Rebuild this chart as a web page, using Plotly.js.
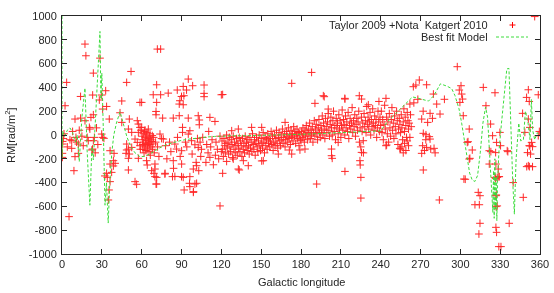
<!DOCTYPE html>
<html>
<head>
<meta charset="utf-8">
<script src="https://cdn.plot.ly/plotly-3.0.1.min.js"></script>
<style>
  html, body { margin: 0; padding: 0; background: #fff; }
  #chart { width: 554px; height: 293px; }
</style>
</head>
<body>
<div id="chart"></div>
<script>
// Rotation measures [lon (deg), RM (rad/m^2)] grouped by longitude sector
const rmSector000 = [
  [0.5,-76],[0.5,-54],[0.3,-154],[0.3,-188],[1,-30],[1.5,10],[2.3,246],[3.5,442],[4,-100],[5.3,-686],
  [6,-40],[7.3,-48],[7.3,-112],[8,30],[9,-300],[9.8,134],[9.8,-182],[10.5,-20],[11,-60],[12.3,-76],
  [12.3,-154],[13,40],[14,142],[14,324],[15,-10],[16,-90],[17.3,764],[17.3,120],[18,666],[19,-20],
  [19.8,-48],[20.6,64],[21,50],[21.8,148],[22.5,-126],[23,-118],[23.1,336],[23.6,520],[23.6,170],[23.6,-48],
  [24.4,-20],[25,-150],[26,60],[27,-80],[28.1,294],[28.6,646],[29.9,336],[29.9,8],[30.6,218],[30.6,-20],
  [31.6,-28],[32.3,-344],[32.9,372],[33.6,240],[33.6,-322],[34.1,-356],[34.9,-546],[35.4,-462],[35.6,134],[36.2,-132],
  [36.2,-244],[36.2,-392],[37.4,-314],[38.7,-216],[38.7,-260],[39.2,-154],[40,-238],[43.7,187],[45,286],[45,106],
  [48.2,-154],[48.7,442],[48.7,-126],[48.7,-76],[50,50],[50,-118],[50,-196],[50,-294],[50.7,134],[50.7,-160],
  [52,534],[52.5,22],[52.5,-104],[55,-34],[55,-392],[56.2,-414],[56.7,120],[56.7,-62],[57.5,92],[57.5,22],
  [57.5,-196],[58.7,274],[58.7,64],[58.7,-90],[59,-120]
];
const rmSector060 = [
  [59.5,40],[60,64],[60,274],[60.2,-10],[60.5,-40],[60.8,-80],[61,-120],[61.2,10],[61.5,-60],[61.8,-150],
  [62,30],[62.3,-100],[62.5,42],[62.8,-20],[63,-70],[63.2,-130],[63.5,0],[63.7,-216],[63.8,-45],[64,20],
  [64.2,-252],[64.3,-90],[64.5,-110],[64.8,-30],[65,50],[65.2,-60],[65.5,-140],[65.8,-15],[66,-80],[66.3,10],
  [66.5,-170],[66.8,-40],[67,-100],[67.5,-300],[67.5,-55],[68,-5],[68.2,-120],[68.5,-75],[68.7,338],[69,-20],
  [69.2,-322],[69.5,-150],[70,-350],[70,-244],[70,-286],[70.5,-60],[70.8,-412],[70.8,198],[70.8,170],[71.3,422],
  [71.3,274],[71.3,-356],[71.3,-412],[71.8,722],[72,-100],[73,-180],[73.8,8],[74.3,722],[74.3,338],[75,-30],
  [75.8,142],[76.3,-34],[77.5,-328],[77.6,-322],[78,-90],[79,-200],[80,352],[81,-60],[82,-140],[83.2,-350],
  [83.8,142],[83.8,-216],[84,-280],[85,-76],[85,-348],[86.3,-118],[86.8,378],[87,-20],[88.3,162],[88.3,260],
  [88.8,288],[89,-180],[90,324],[90,-350],[90.1,-132],[90.1,-244],[90.8,64],[90.8,22],[91.3,408],[91.3,254],
  [91.3,-356],[91.8,330],[92,-462],[93,-60],[93.8,378],[94,-100],[95.1,470],[95.1,142],[95.1,8],[96,-406],
  [96.3,36],[96.3,-350],[96.3,-434],[97.6,-48],[98,-160],[98.4,414],[98.9,-286],[98.9,-482],[99,-476],[100.1,-82],
  [100.1,-412],[101,-230],[101.4,-258],[101.4,-406],[102,-30],[102.6,162],[102.6,-104],[103,-300],[103.4,126],[103.4,86],
  [104,-60],[104.5,-180],[105,-120],[106,-20],[107,420],[107,350],[107,322],[108.4,-230],[109,-80],[110,-150],
  [110.5,30],[111.4,148],[111.4,-188],[112,-100],[113,-40],[114,-250],[115.2,114],[115.5,-170],[116,-60],[117,-120],
  [118,-200],[119,-596],[119,-10],[120,338],[120,-140]
];
const rmSector120 = [
  [121,340],[121,-322],[133.5,-294],[140.3,-258],[150.4,-218],[124,-222],[129,-202],[136.6,-216],[151.6,-216],[132.8,-286],
  [162.9,-160],[173,-160],[173,434],[168,106],[150.4,64],[142.8,64],[132.8,50],[127.8,36],[171.2,-126],[179.2,-126],
  [120.5,-50],[121,-120],[121.5,-180],[122,-30],[122.5,-90],[123,-150],[123.5,-70],[124,0],[124.5,-110],[125,-60],
  [125.5,-160],[126,-20],[126.5,-100],[127,-140],[127.5,-40],[128,-80],[128.5,-190],[129,-10],[129.5,-120],[130,-60],
  [130.5,-150],[131,-90],[131.5,-30],[132,-170],[132.5,-70],[133,-110],[133.5,-20],[134,-140],[134.5,-50],[135,-90],
  [135.5,-180],[136,-30],[136.5,-120],[137,-70],[137.5,-150],[138,-10],[138.5,-100],[139,-60],[139.5,-130],[140,-40],
  [140.5,-90],[141,-160],[141.5,-20],[142,-110],[142.5,-60],[143,-140],[143.5,10],[144,-80],[144.5,-120],[145,-40],
  [145.5,-170],[146,-70],[146.5,-20],[147,-100],[147.5,-140],[148,-50],[148.5,0],[149,-90],[149.5,-130],[150,-30],
  [150.5,-70],[151,-110],[151.5,20],[152,-60],[152.5,-150],[153,-20],[153.5,-90],[154,-40],[154.5,-120],[155,10],
  [155.5,-70],[156,-30],[156.5,-100],[157,-50],[157.5,30],[158,-80],[158.5,-10],[159,-130],[159.5,-60],[160,0],
  [160.5,-90],[161,-30],[161.5,40],[162,-70],[162.5,-110],[163,-20],[163.5,20],[164,-50],[164.5,-90],[165,0],
  [165.5,-40],[166,50],[166.5,-70],[167,-20],[167.5,10],[168,-100],[168.5,-40],[169,30],[169.5,-10],[170,-60],
  [170.5,60],[171,-30],[171.5,0],[172,-80],[172.5,40],[173,-20],[173.5,10],[174,-50],[174.5,70],[175,-10],
  [175.5,30],[176,-70],[176.5,0],[177,50],[177.5,-30],[178,20],[178.5,-90],[179,10],[179.5,-40]
];
const rmSector180 = [
  [188,526],[196.8,330],[197.5,322],[213,308],[213.1,302],[223.9,330],[225.6,302],[230.7,254],[238.7,282],[190.5,266],
  [200.5,218],[183,-118],[191.8,-412],[213.1,-306],[203,-118],[203,-174],[203.5,-196],[225.1,-356],[225.1,-530],[224.4,-216],
  [224.6,-252],[225.6,-146],[226.9,-48],[208,-62],[180,-48],
  [180.5,30],[181,-20],[181.5,60],[182,0],[182.5,-60],[183,40],[183.5,-10],[184,80],[184.5,20],[185,-40],
  [185.5,50],[186,10],[186.5,100],[187,-30],[187.5,40],[188,0],[188.5,70],[189,-60],[189.5,20],[190,120],
  [190.5,-10],[191,50],[191.5,90],[192,10],[192.5,-40],[193,60],[193.5,130],[194,20],[194.5,-20],[195,80],
  [195.5,40],[196,160],[196.5,0],[197,100],[197.5,50],[198,-30],[198.5,140],[199,70],[199.5,20],[200,110],
  [200.5,180],[201,40],[201.5,-10],[202,90],[202.5,150],[203,60],[203.5,0],[204,120],[204.5,200],[205,30],
  [205.5,80],[206,-40],[206.5,140],[207,60],[207.5,100],[208,10],[208.5,170],[209,50],[209.5,120],[210,-20],
  [210.5,80],[211,210],[211.5,40],[212,130],[212.5,90],[213,0],[213.5,160],[214,60],[214.5,110],[215,30],
  [215.5,190],[216,-30],[216.5,80],[217,140],[217.5,50],[218,100],[218.5,230],[219,20],[219.5,120],[220,70],
  [220.5,170],[221,-10],[221.5,90],[222,140],[222.5,40],[223,110],[223.5,200],[224,-60],[224.5,60],[225,-100],
  [225.5,150],[226,30],[226.5,100],[227,-150],[227.5,180],[228,70],[228.5,120],[229,20],[229.5,240],[230,90],
  [230.5,150],[231,50],[231.5,110],[232,190],[232.5,0],[233,130],[233.5,70],[234,220],[234.5,100],[235,40],
  [235.5,160],[236,80],[236.5,130],[237,-20],[237.5,60],[238,200],[238.5,110],[239,30],[239.5,150]
];
const rmSector240 = [
  [240,80],[240.5,200],[241,20],[241.5,130],[242,-40],[242.5,90],[243,250],[243.5,50],[244,308],[244,-90],
  [244.5,150],[245,10],[245.5,110],[246,-60],[246.5,180],[247,60],[247.5,-10],[248,130],[248.5,230],[249,40],
  [249.5,100],[250,-30],[250.5,160],[251,70],[251.5,10],[252,200],[252.5,120],[253,-80],[253.5,50],[254,140],
  [254.5,90],[255,-118],[255,20],[255.5,170],[256,60],[256.5,-40],[257,110],[257.5,220],[258,30],[258.5,150],
  [259,80],[259.5,-20],[260,190],[260.5,120],[261,50],[261.5,100],[262,260],[262.5,170],[263,70],[264.6,406],
  [256,-100],[257,-150],[258,-70],[259,-130],[260,-50],[261,-90],[262,-20],
  [244.5,-84],[254.4,-112],[269.1,462],[274.6,422],[266.5,420],[265,270],[279.7,344],[284.7,176],[282.2,260],[270.9,134],
  [275.4,106],[277.2,182],[272,200],[272.1,14],[274.1,2],[276.6,-14],[277.2,-34],[274,-40],[271.6,-90],[274.6,-104],
  [277.7,-118],[280.2,-112],[270.9,-154],[272.1,-294],[284.2,-546],[297.7,574],[299.2,378],[299.7,274],[268,300],[279,140],
  [273,-130],[281,-150],[288,300]
];
const rmSector300 = [
  [300.5,414],[301,344],[301.7,302],[302.2,162],[302.7,-370],[303.7,-372],[305.2,-62],[305.8,-56],[306.7,50],[306.7,-202],
  [307.2,-196],[309,-126],[311,-586],[313.5,-482],[314.8,-510],[314.3,-586],[314.8,-742],[314,-832],[317.3,400],[319.3,246],
  [321.8,-132],[321.8,-244],[322.8,92],[323,-140],[324.3,-6],[326.1,355],[326.1,-356],[326.6,-148],[326.6,-364],[326.8,-244],
  [326.8,-510],[326.8,-602],[326.8,-776],[327.1,-504],[327.3,-62],[327.3,-818],[327.8,-356],[327.8,-596],[328.6,-286],[329,-350],
  [329,-938],[329.3,-350],[329.8,22],[330.3,-90],[330.6,-938],[335.3,-132],[335.8,-140],[336.8,-742],[339.8,-400],[346.9,182],
  [347.4,-524],[348.6,22],[349.9,316],[350.6,-148],[351.2,380],[351.2,-258],[351.2,134],[351.9,282],[351.9,-90],[352.4,64],
  [352.9,-160],[353.7,-62],[354.4,-266],[352,-266],[350,-266],[354.4,-98],[352.4,-92],[356,995],[358.7,338],[358.7,-6],
  [359.5,30]
];

// Best-fit model curve
const modelLon = [0,0,0.5,2,4,6,8,10,11.5,13,15,17.3,19,21,22.5,23.6,25,27,28.6,29.3,
  30,31,32.4,33.5,34.8,36,37.5,39,41,43.7,46,49,52,55,58.7,62,66,70,75,80,
  85,90,96,102,109,115,120,130,140,150,160,170,180,190,200,210,220,230,240,245,
  250,255,260,264,268,272,276,280,285,290,293.5,296,299,301,303,305,307,309,311,313,
  315,317,319,320.5,322,323.5,324.5,325,325.5,326,326.5,327,327.5,328,329,331,333,335,336.6,338,
  339.5,340.7,342,344,345.5,347.5,349,351,352.5,353.5,354.5,356,358,360];
const modelRM = [1000,-200,30,-10,40,60,20,-60,0,-224,150,394,-150,-590,-100,-210,100,500,870,300,
  520,100,-590,-400,-740,-400,-150,0,100,196,100,-20,-100,-150,-182,-180,-160,-130,-100,-76,
  -58,-45,-34,-25,-17,-12,-8,-6,-6,-4,-2,2,6,10,14,18,22,28,35,110,
  165,215,270,320,310,300,285,330,430,410,390,330,220,100,-50,-200,-320,-380,-390,-340,
  -150,100,235,150,-150,-450,-650,-300,-700,-200,-620,-350,-720,-400,-150,100,300,555,560,0,
  -400,-665,-200,100,-50,-40,200,100,-40,300,40,-40,20,-10];

const xTicks = [0,30,60,90,120,150,180,210,240,270,300,330,360];
const yTicks = [-1000,-800,-600,-400,-200,0,200,400,600,800,1000];

const allPts = [].concat(rmSector000, rmSector060, rmSector120, rmSector180, rmSector240, rmSector300);

const FONT = 'Liberation Sans, Arial, sans-serif';
const INK = '#262626';
const RED = 'rgb(255,0,0)';
const GREEN = 'rgb(60,220,60)';

const traces = [
  {
    x: allPts.map(p => p[0]),
    y: allPts.map(p => p[1]),
    type: 'scatter',
    mode: 'markers',
    name: 'Taylor 2009 +Nota  Katgert 2010',
    marker: { symbol: 'cross-thin-open', size: 5.5, color: RED, line: { color: RED, width: 1 } },
    opacity: 0.85
  },
  {
    x: modelLon,
    y: modelRM,
    type: 'scatter',
    mode: 'lines',
    name: 'Best fit Model',
    line: { color: GREEN, width: 1, dash: '3px,2px' }
  }
];

// plot-area edges in pixels, used to place legend keys and axis captions
const L = 62, R = 540, T = 16, B = 254;
const px = v => (v - L) / (R - L);
const py = v => (B - v) / (B - T);

const axisCommon = {
  showline: true, linecolor: INK, linewidth: 1, mirror: 'allticks',
  ticks: 'inside', ticklen: 5, tickcolor: INK, tickwidth: 1,
  showgrid: false, zeroline: false,
  tickfont: { family: FONT, size: 11, color: INK }
};

const capFont = { family: FONT, size: 11, color: INK };

const layout = {
  width: 554, height: 293,
  margin: { l: L, r: 554 - R, t: T, b: 293 - B },
  paper_bgcolor: '#fff', plot_bgcolor: '#fff',
  showlegend: false,
  xaxis: Object.assign({}, axisCommon, {
    range: [0, 360], tickvals: xTicks, ticktext: xTicks.map(String)
  }),
  yaxis: Object.assign({}, axisCommon, {
    range: [-1000, 1000], tickvals: yTicks, ticktext: yTicks.map(String),
    ticklabelstandoff: 2
  }),
  annotations: [
    { xref: 'paper', yref: 'paper', x: px(301), y: py(282), xanchor: 'center', yanchor: 'middle',
      text: 'Galactic longitude', showarrow: false, font: capFont },
    { xref: 'paper', yref: 'paper', x: px(10), y: py(135), xanchor: 'center', yanchor: 'middle',
      text: 'RM[rad/m<sup>2</sup>]', textangle: -90, showarrow: false, font: capFont },
    { xref: 'paper', yref: 'paper', x: px(490), y: py(25), xanchor: 'right', yanchor: 'middle',
      text: 'Taylor 2009 +Nota \u00a0Katgert 2010', showarrow: false, font: capFont },
    { xref: 'paper', yref: 'paper', x: px(490), y: py(37), xanchor: 'right', yanchor: 'middle',
      text: 'Best fit Model', showarrow: false, font: capFont }
  ],
  shapes: [
    { type: 'line', xref: 'paper', yref: 'paper', x0: px(509.5), x1: px(515.5), y0: py(25), y1: py(25),
      line: { color: RED, width: 1 } },
    { type: 'line', xref: 'paper', yref: 'paper', x0: px(512.5), x1: px(512.5), y0: py(22), y1: py(28),
      line: { color: RED, width: 1 } },
    { type: 'line', xref: 'paper', yref: 'paper', x0: px(496), x1: px(528), y0: py(37), y1: py(37),
      line: { color: GREEN, width: 1, dash: '3px,2px' } }
  ]
};

Plotly.newPlot('chart', traces, layout, { staticPlot: true, displayModeBar: false });
</script>
</body>
</html>
